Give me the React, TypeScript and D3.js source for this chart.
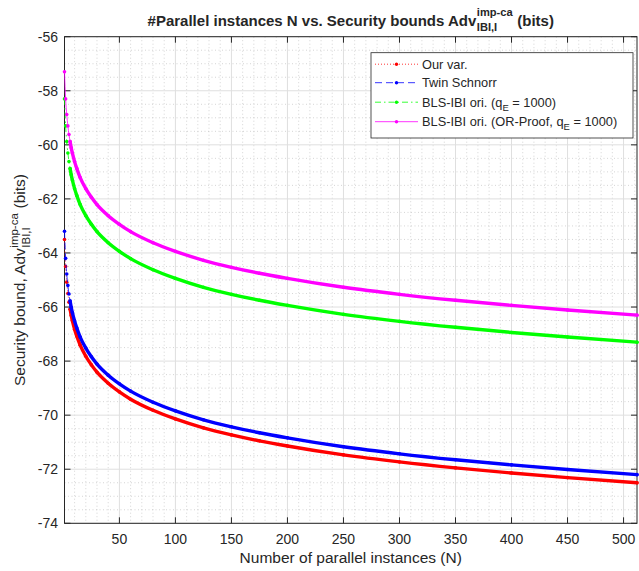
import React, { useEffect, useRef } from "react";
import * as d3 from "d3";

const nValues = [1, 2, 3, 4, 5, 6, 7, 8, 10, 12, 15, 20, 25, 30, 40, 50, 60, 80, 100, 125, 150, 175, 200, 250, 300, 350, 400, 450, 512];

const ourVar = [-63.5, -64.5, -65.08, -65.5, -65.82, -66.08, -66.31, -66.5, -66.82, -67.08, -67.41, -67.82, -68.14, -68.41, -68.82, -69.14, -69.41, -69.82, -70.14, -70.47, -70.73, -70.95, -71.14, -71.47, -71.73, -71.95, -72.14, -72.31, -72.5];
const twinSchnorr = [-63.2, -64.2, -64.78, -65.2, -65.52, -65.78, -66.01, -66.2, -66.52, -66.78, -67.11, -67.52, -67.84, -68.11, -68.52, -68.84, -69.11, -69.52, -69.84, -70.17, -70.43, -70.65, -70.84, -71.17, -71.43, -71.65, -71.84, -72.01, -72.2];
const blsIbi = [-58.3, -59.3, -59.88, -60.3, -60.62, -60.88, -61.11, -61.3, -61.62, -61.88, -62.21, -62.62, -62.94, -63.21, -63.62, -63.94, -64.21, -64.62, -64.94, -65.27, -65.53, -65.75, -65.94, -66.27, -66.53, -66.75, -66.94, -67.11, -67.3];
const blsIbiOr = [-57.3, -58.3, -58.88, -59.3, -59.62, -59.88, -60.11, -60.3, -60.62, -60.88, -61.21, -61.62, -61.94, -62.21, -62.62, -62.94, -63.21, -63.62, -63.94, -64.27, -64.53, -64.75, -64.94, -65.27, -65.53, -65.75, -65.94, -66.11, -66.3];

const xTicks = [50, 100, 150, 200, 250, 300, 350, 400, 450, 500];
const yTicks = [-56, -58, -60, -62, -64, -66, -68, -70, -72, -74];

const series = [
  { label: "Our var.", sub: "", rest: "", values: ourVar, color: "#ff0000", dash: "1,2" },
  { label: "Twin Schnorr", sub: "", rest: "", values: twinSchnorr, color: "#0000ff", dash: "7,4" },
  { label: "BLS-IBI ori. (q", sub: "E", rest: " = 1000)", values: blsIbi, color: "#00ff00", dash: "6,3,1.5,3" },
  { label: "BLS-IBI ori. (OR-Proof, q", sub: "E", rest: " = 1000)", values: blsIbiOr, color: "#ff00ff", dash: "" },
];

const W = 639;
const H = 571;
const margin = { left: 64.5, right: 2, top: 36.7, bottom: 47.7 };
const FONT = "'Liberation Sans', Arial, Helvetica, sans-serif";
const AXIS = "#262626";

// text with stacked super/subscript, e.g. Adv^{imp-ca}_{IBI,I}
function stackedText(g, pre, sup, sub, post, size, weight, supShift, subShift) {
  const small = size * 0.74;
  const t1 = g.append("text").attr("font-size", size).attr("font-weight", weight).style("white-space", "pre").text(pre);
  const w1 = t1.node().getComputedTextLength();
  const ts = g.append("text").attr("x", w1 + 0.5).attr("y", supShift).attr("font-size", small).attr("font-weight", weight).text(sup);
  const tb = g.append("text").attr("x", w1 + 0.5).attr("y", subShift).attr("font-size", small).attr("font-weight", weight).text(sub);
  const w2 = Math.max(ts.node().getComputedTextLength(), tb.node().getComputedTextLength());
  const t2 = g.append("text").attr("x", w1 + w2 + 1).attr("font-size", size).attr("font-weight", weight).style("white-space", "pre").text(post);
  return w1 + w2 + 1 + t2.node().getComputedTextLength();
}

export default function App() {
  const svgRef = useRef(null);

  useEffect(() => {
    const svg = d3.select(svgRef.current);
    svg.selectAll("*").remove();
    svg.attr("font-family", FONT).attr("fill", AXIS);

    const x = d3.scaleLinear().domain([1, 512]).range([margin.left, W - margin.right]);
    const y = d3.scaleLinear().domain([-74, -56]).range([H - margin.bottom, margin.top]);
    const [x0, x1] = x.range();
    const [y0, y1] = y.range();

    svg.append("rect").attr("width", W).attr("height", H).attr("fill", "#fff");

    // minor grid
    const minorX = d3.range(10, 512, 10).filter((v) => v % 50 !== 0);
    const minorY = d3.range(-73.5, -56, 0.5).filter((v) => v % 2 !== 0);
    const grid = svg.append("g");
    grid.selectAll(".mx").data(minorX).join("line")
      .attr("x1", (d) => x(d)).attr("x2", (d) => x(d)).attr("y1", y1).attr("y2", y0)
      .attr("stroke", "#b8b8b8").attr("stroke-width", 0.6).attr("stroke-dasharray", "1,2.5");
    grid.selectAll(".my").data(minorY).join("line")
      .attr("x1", x0).attr("x2", x1).attr("y1", (d) => y(d)).attr("y2", (d) => y(d))
      .attr("stroke", "#b8b8b8").attr("stroke-width", 0.6).attr("stroke-dasharray", "1,2.5");
    // major grid
    grid.selectAll(".gx").data(xTicks).join("line")
      .attr("x1", (d) => x(d)).attr("x2", (d) => x(d)).attr("y1", y1).attr("y2", y0)
      .attr("stroke", "#dfdfdf").attr("stroke-width", 1);
    grid.selectAll(".gy").data(yTicks).join("line")
      .attr("x1", x0).attr("x2", x1).attr("y1", (d) => y(d)).attr("y2", (d) => y(d))
      .attr("stroke", "#dfdfdf").attr("stroke-width", 1);

    // axes box + ticks
    const ax = svg.append("g").attr("stroke", AXIS).attr("stroke-width", 1);
    ax.append("rect").attr("x", x0).attr("y", y1).attr("width", x1 - x0).attr("height", y0 - y1).attr("fill", "none");
    const tl = 6;
    xTicks.forEach((t) => {
      ax.append("line").attr("x1", x(t)).attr("x2", x(t)).attr("y1", y0).attr("y2", y0 - tl);
      ax.append("line").attr("x1", x(t)).attr("x2", x(t)).attr("y1", y1).attr("y2", y1 + tl);
    });
    yTicks.forEach((t) => {
      ax.append("line").attr("x1", x0).attr("x2", x0 + tl).attr("y1", y(t)).attr("y2", y(t));
      ax.append("line").attr("x1", x1).attr("x2", x1 - tl).attr("y1", y(t)).attr("y2", y(t));
    });

    // curves: thin styled line, '.' markers, and the dense marker trail where dots merge
    const line = d3.line().x((d) => x(d[0])).y((d) => y(d[1])).curve(d3.curveMonotoneX);
    series.forEach((s) => {
      const pts = nValues.map((n, i) => [n, s.values[i]]);
      const g = svg.append("g");
      g.append("path").attr("d", line(pts.filter((p) => p[0] >= 6))).attr("fill", "none")
        .attr("stroke", s.color).attr("stroke-width", 3.4).attr("stroke-linecap", "round");
      g.append("path").attr("d", line(pts)).attr("fill", "none")
        .attr("stroke", s.color).attr("stroke-width", 0.8).attr("stroke-dasharray", s.dash || null);
      g.selectAll("circle").data(pts).join("circle")
        .attr("cx", (d) => x(d[0])).attr("cy", (d) => y(d[1])).attr("r", 1.8).attr("fill", s.color);
    });

    svg.append("g").selectAll("text").data(xTicks).join("text")
      .attr("x", (d) => x(d)).attr("y", y0 + 21).attr("text-anchor", "middle").attr("font-size", 14).text((d) => d);
    svg.append("g").selectAll("text").data(yTicks).join("text")
      .attr("x", x0 - 6.5).attr("y", (d) => y(d) + 5).attr("text-anchor", "end").attr("font-size", 14).text((d) => d);

    // x label
    svg.append("text").attr("x", (x0 + x1) / 2).attr("y", 563).attr("text-anchor", "middle")
      .attr("font-size", 15.5).text("Number of parallel instances (N)");

    // y label
    const yl = svg.append("g");
    const ylw = stackedText(yl, "Security bound, Adv", "imp-ca", "IBI,I", " (bits)", 15.5, "normal", -7, 4.5);
    yl.attr("transform", `translate(25,${(y0 + y1) / 2 + ylw / 2}) rotate(-90)`);

    // title
    const tg = svg.append("g");
    const tw = stackedText(tg, "#Parallel instances N vs. Security bounds Adv", "imp-ca", "IBI,I", " (bits)", 15, "bold", -10, 5);
    tg.attr("transform", `translate(${(x0 + x1) / 2 - tw / 2},26)`);

    // legend
    const lg = svg.append("g").attr("transform", "translate(371,52.7)");
    lg.append("rect").attr("width", 262).attr("height", 85.3).attr("fill", "#fff").attr("stroke", AXIS).attr("stroke-width", 0.8);
    const rowY = [11.5, 30, 49.5, 69];
    series.forEach((s, i) => {
      const r = lg.append("g").attr("transform", `translate(0,${rowY[i]})`);
      r.append("line").attr("x1", 4).attr("x2", 47).attr("stroke", s.color).attr("stroke-width", 0.8)
        .attr("stroke-dasharray", s.dash || null);
      r.append("circle").attr("cx", 25.5).attr("r", 1.7).attr("fill", s.color);
      const t = r.append("text").attr("x", 51).attr("y", 4.5).attr("font-size", 12.8).style("white-space", "pre");
      t.append("tspan").text(s.label);
      if (s.sub) {
        t.append("tspan").attr("font-size", 9.5).attr("dy", 4).text(s.sub);
        t.append("tspan").attr("dy", -4).text(s.rest);
      }
    });
  }, []);

  return (
    <svg ref={svgRef} width={W} height={H} style={{ position: "absolute", left: 0, top: 0 }} />
  );
}
